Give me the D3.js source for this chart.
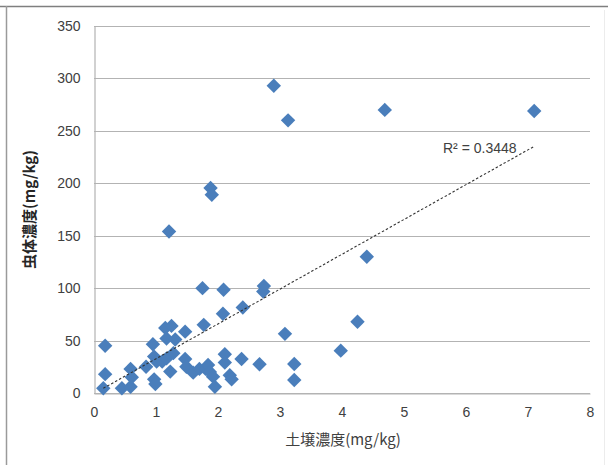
<!DOCTYPE html>
<html>
<head>
<meta charset="utf-8">
<script src="https://cdn.jsdelivr.net/npm/d3@7"></script>
<style>
  html, body { margin: 0; padding: 0; background: #fff; }
  svg { display: block; }
</style>
</head>
<body>
<svg id="chart" width="608" height="465"></svg>
<script>
// Soil concentration (x) and body concentration (y), mg/kg
const soil = [
  0.15, 0.18, 0.18, 0.45, 0.59, 0.59, 0.61,
  0.84, 0.95, 0.97, 0.97, 0.99, 1.01, 1.10,
  1.15, 1.17, 1.17, 1.25, 1.28, 1.31, 1.23, 1.21,
  1.47, 1.47, 1.49, 1.60, 1.70, 1.75, 1.77, 1.80, 1.84, 1.87, 1.92, 1.95,
  1.88, 1.90,
  2.09, 2.08, 2.11, 2.11, 2.19, 2.22,
  2.40, 2.38, 2.67, 2.74, 2.73,
  3.08, 3.23, 3.23,
  3.98, 4.25, 4.40,
  2.90, 3.13, 4.69, 7.10
];
const body = [
  4.5, 45, 18, 4.5, 6, 23, 15,
  25, 46.5, 34.7, 13, 8.6, 30, 30,
  62, 33, 52, 64, 38, 51, 20.4, 154,
  58.5, 32.5, 25, 19.4, 23, 100, 65, 23, 26.7, 20, 15.6, 6,
  195.5, 189,
  98.4, 75.5, 37, 29, 17, 13,
  81.5, 32.5, 27.4, 102, 96.8,
  56.4, 27.7, 12.4,
  40.4, 68, 130,
  293, 260, 270, 269
];

const xTicks = [0, 1, 2, 3, 4, 5, 6, 7, 8];
const yTicks = [0, 50, 100, 150, 200, 250, 300, 350];

// Linear trendline y = slope * x + intercept, with its R²
const trendSlope = 33.2;
const trendIntercept = -0.5;
const rSquaredLabel = "R² = 0.3448";

const xTitle = "土壌濃度(mg/kg)";
const yTitle = "虫体濃度(mg/kg)";

const svg = d3.select("#chart");
const plot = { left: 94, right: 590, top: 26, bottom: 393 };

const x = d3.scaleLinear().domain([0, 8]).range([plot.left, plot.right]);
const y = d3.scaleLinear().domain([0, 350]).range([plot.bottom, plot.top]);

const font = "'Liberation Sans', 'Noto Sans', sans-serif";
const cjkFont = "'Noto Sans CJK JP', 'Noto Sans CJK SC', sans-serif";

// Outer chart frame
svg.append("line").attr("x1", 0).attr("x2", 608).attr("y1", 6.5).attr("y2", 6.5)
  .attr("stroke", "#7f7f7f").attr("stroke-width", 1.5);
svg.append("line").attr("x1", 6.5).attr("x2", 6.5).attr("y1", 6).attr("y2", 465)
  .attr("stroke", "#9a9a9a").attr("stroke-width", 1.5);
svg.append("line").attr("x1", 604.5).attr("x2", 604.5).attr("y1", 10).attr("y2", 465)
  .attr("stroke", "#ececec").attr("stroke-width", 1);

// Horizontal gridlines
svg.append("g")
  .selectAll("line")
  .data(yTicks)
  .join("line")
  .attr("x1", plot.left).attr("x2", plot.right)
  .attr("y1", d => Math.round(y(d)) + 0.5).attr("y2", d => Math.round(y(d)) + 0.5)
  .attr("stroke", "#b3b3b3").attr("stroke-width", 1.2);

// Y axis
const yAxis = svg.append("g")
  .attr("transform", `translate(${plot.left + 0.5},0)`)
  .call(d3.axisLeft(y).tickValues(yTicks).tickSize(0).tickPadding(14));
yAxis.select(".domain").attr("stroke", "#b3b3b3").attr("stroke-width", 1.2);
yAxis.selectAll("text").attr("font-family", font).attr("font-size", 14).attr("fill", "#404040");

// X axis
const xAxis = svg.append("g")
  .attr("transform", `translate(0,${Math.round(y(0)) + 0.5})`)
  .call(d3.axisBottom(x).tickValues(xTicks).tickSize(0).tickPadding(14));
xAxis.select(".domain").attr("stroke", "#b3b3b3").attr("stroke-width", 1.2);
xAxis.selectAll("text").attr("font-family", font).attr("font-size", 14).attr("fill", "#404040");

// Data points as diamonds
const points = soil.map((s, i) => ({ x: s, y: body[i] }));
const diamond = d3.symbol().type(d3.symbolSquare).size(104);
svg.append("g")
  .selectAll("path")
  .data(points)
  .join("path")
  .attr("d", diamond)
  .attr("transform", d => `translate(${x(d.x)},${y(d.y)}) rotate(45)`)
  .attr("fill", "#4a7ebb");

// Trendline across the data range
const xMin = d3.min(soil), xMax = d3.max(soil);
svg.append("line")
  .attr("x1", x(xMin)).attr("y1", y(trendSlope * xMin + trendIntercept))
  .attr("x2", x(xMax)).attr("y2", y(trendSlope * xMax + trendIntercept))
  .attr("stroke", "#333").attr("stroke-width", 1.1)
  .attr("stroke-dasharray", "2.5,2");

svg.append("text")
  .attr("x", 443).attr("y", 153)
  .attr("font-family", font).attr("font-size", 14).attr("fill", "#404040")
  .text(rSquaredLabel);

// Axis titles
svg.append("text")
  .attr("x", 343).attr("y", 445)
  .attr("text-anchor", "middle")
  .attr("font-family", cjkFont).attr("font-size", 15).attr("fill", "#404040")
  .text(xTitle);

svg.append("text")
  .attr("transform", `translate(35,${(plot.top + plot.bottom) / 2}) rotate(-90)`)
  .attr("text-anchor", "middle")
  .attr("font-family", cjkFont).attr("font-size", 15).attr("font-weight", "bold").attr("fill", "#262626")
  .text(yTitle);
</script>
</body>
</html>
